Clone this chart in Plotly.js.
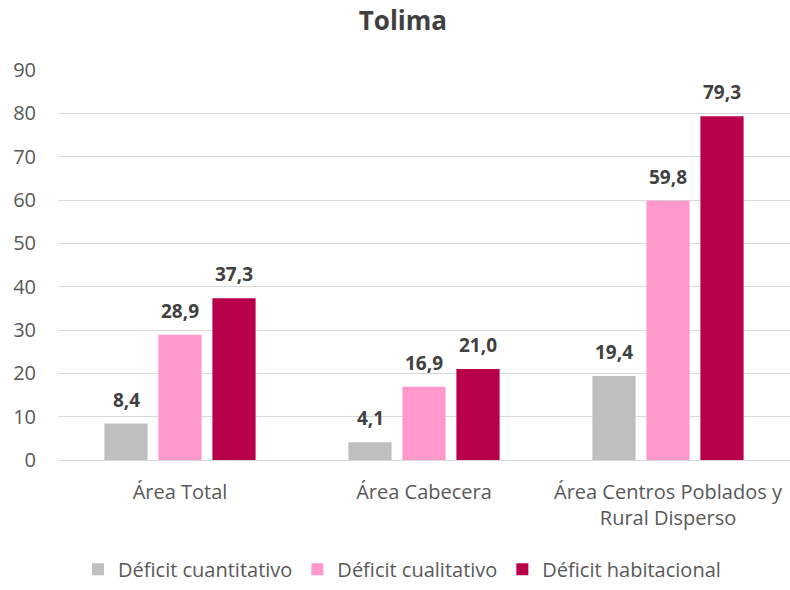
<!DOCTYPE html>
<html><head><meta charset="utf-8">
<script src="https://cdn.plot.ly/plotly-3.0.1.min.js"></script>
<style>html,body{margin:0;padding:0;background:#fff}</style>
</head><body>
<div id="chart" style="width:790px;height:590px"></div>
<script>
const categories = ["Área Total", "Área Cabecera", "Área Centros Poblados y<br>Rural Disperso"];
const seriesNames = ["Déficit cuantitativo", "Déficit cualitativo", "Déficit habitacional"];
const cuantitativo = [8.4, 4.1, 19.4];
const cualitativo = [28.9, 16.9, 59.8];
const habitacional = [37.3, 21.0, 79.3];
const colors = ["#BFBFBF", "#FF99CC", "#B8004A"];
const yTicks = [0,10,20,30,40,50,60,70,80,90];

const fmt = v => v.toFixed(1).replace('.', ',');
const vals = [cuantitativo, cualitativo, habitacional];
const traces = vals.map((v, i) => ({
  type: 'bar', x: categories, y: v, name: seriesNames[i],
  marker: {color: colors[i]}
}));
const annotations = [];
vals.forEach((v, i) => v.forEach((val, j) => annotations.push({
  x: categories[j], y: val, xref: 'x', yref: 'y', text: '<b>' + fmt(val) + '</b>',
  showarrow: false, xanchor: 'center', yanchor: 'bottom', yshift: 9, xshift: (i - 1) * 54,
  font: {family: 'Open Sans', size: 19, color: '#404040'}
})));
const layout = {
  width: 790, height: 590,
  margin: {l: 58, r: 0, t: 70, b: 130},
  paper_bgcolor: '#fff', plot_bgcolor: '#fff',
  title: {text: '<b>Tolima</b>', x: 0.51, xanchor: 'center', y: 0.965, yanchor: 'middle',
    font: {family: 'Open Sans', size: 26, color: '#404040'}},
  barmode: 'group', bargap: 0.336, bargroupgap: 0.2,
  annotations: annotations,
  xaxis: {tickfont: {family: 'Open Sans', size: 20, color: '#595959'}, showline: true,
    linecolor: '#d9d9d9', linewidth: 1, ticks: '', automargin: false, ticklabelstandoff: 14},
  yaxis: {range: [0, 90], tickvals: yTicks, showgrid: true, gridcolor: '#d9d9d9', gridwidth: 1,
    zeroline: false, tickfont: {family: 'Open Sans', size: 20, color: '#595959'},
    ticks: '', ticklabelstandoff: 21, automargin: false},
  showlegend: true,
  legend: {orientation: 'h', x: 0.47, xanchor: 'center', y: -0.28, yanchor: 'middle',
    font: {family: 'Open Sans', size: 20, color: '#595959'}, itemwidth: 30, tracegroupgap: 0},
  font: {family: 'Open Sans'}
};
Plotly.newPlot('chart', traces, layout, {displayModeBar: false, staticPlot: true});
</script>
</body></html>
